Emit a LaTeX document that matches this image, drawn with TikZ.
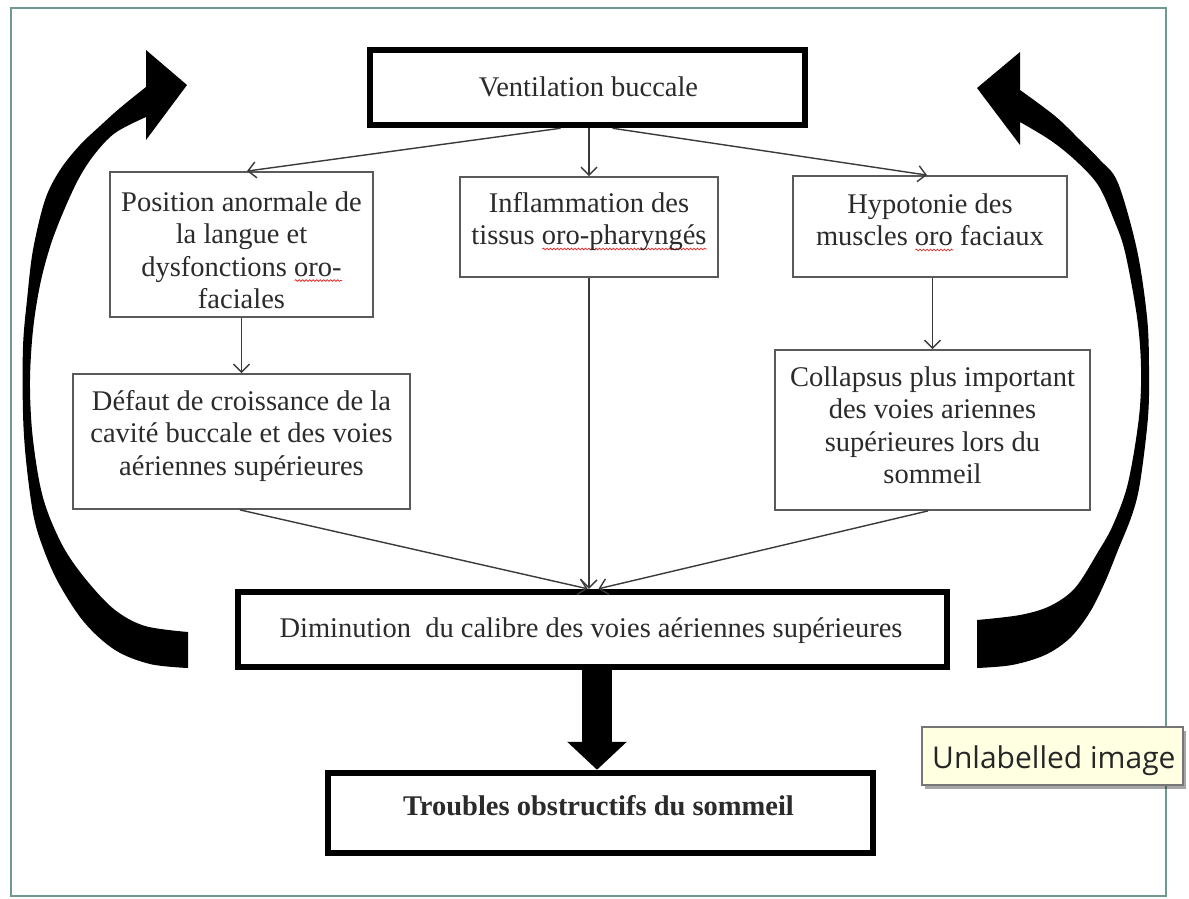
\documentclass[tikz,border=0pt]{standalone}
\usepackage{fontspec}
\setmainfont{Liberation Serif}
\newfontfamily\tipfont{Open Sans}
\usetikzlibrary{arrows.meta,shadows,decorations.pathmorphing}
\definecolor{framec}{HTML}{6E9A92}
\definecolor{txtc}{HTML}{2B2B2B}
\definecolor{boxgray}{HTML}{5A5A5A}
\definecolor{lineg}{HTML}{3A3A3A}
\definecolor{tipfill}{HTML}{FFFFE1}
\definecolor{tipline}{HTML}{767676}
\definecolor{sqred}{HTML}{E03030}
\newsavebox\sqbox
\newcommand\redsq[1]{\sbox\sqbox{#1}\leavevmode\rlap{\tikz[baseline=0pt]\draw[sqred, line width=0.8pt, decorate, decoration={snake, amplitude=0.8pt, segment length=3.5pt}] (0pt,-4.5pt) -- (\the\wd\sqbox,-4.5pt);}\usebox\sqbox}
\newcommand\mlines[1]{\begin{tabular}[t]{@{}c@{}}#1\end{tabular}}
\newcommand\dfont{\fontsize{28.5}{32.5}\selectfont}
\tikzset{
  thinbox/.style={rectangle, draw=boxgray, line width=1.8pt, inner sep=0pt},
  thickbox/.style={rectangle, draw=black, line width=6.5pt, inner sep=0pt},
  txt/.style={anchor=base, inner sep=0pt, font=\dfont, text=txtc},
  conn/.style={draw=lineg, line width=1.4pt, -{Straight Barb[length=8pt,width=16pt]}},
  bigdown/.style={draw=black, line width=30pt, -{Triangle[length=28pt,width=58pt]}},
  tipbox/.style={rectangle, draw=tipline, line width=1.2pt, fill=tipfill, inner sep=0pt,
    drop shadow={shadow xshift=3pt, shadow yshift=-4pt, opacity=0.35, fill=black}},
  tiptxt/.style={anchor=base west, inner sep=0pt, font=\tipfont\fontsize{30}{34}\selectfont, text=black!85},
}
\begin{document}
\begin{tikzpicture}[x=1pt,y=-1pt]
\useasboundingbox (0,0) rectangle (1189,898);
\fill[white] (0,0) rectangle (1189,898);
\draw[framec, line width=2.5pt] (11,8) rectangle (1166,896);

% boxes
\node[thickbox, minimum width=435pt, minimum height=75pt] (vent) at (587.5,87.5) {};
\node[thinbox, minimum width=263pt, minimum height=145pt] (pos) at (241.5,244.5) {};
\node[thinbox, minimum width=258pt, minimum height=100pt] (infl) at (589,227) {};
\node[thinbox, minimum width=274pt, minimum height=101pt] (hypo) at (930,226.5) {};
\node[thinbox, minimum width=337pt, minimum height=135pt] (defaut) at (241.5,441.5) {};
\node[thinbox, minimum width=315pt, minimum height=160pt] (coll) at (932.5,430) {};
\node[thickbox, minimum width=709pt, minimum height=75pt] (dim) at (592.5,629.5) {};
\node[thickbox, minimum width=545pt, minimum height=80pt] (trou) at (600.5,813) {};

% texts
\node[txt] (ventT) at (588.5,96) {Ventilation buccale};
\node[txt] (posT) at (241.5,211) {\mlines{Position anormale de\\la langue et\\dysfonctions \redsq{oro-}\\faciales}};
\node[txt] (inflT) at (589,212) {\mlines{Inflammation des\\tissus \redsq{oro-pharyngés}}};
\node[txt] (hypoT) at (930,213) {\mlines{Hypotonie des\\muscles \redsq{oro} faciaux}};
\node[txt] (defT) at (241.5,410) {\mlines{Défaut de croissance de la\\cavité buccale et des voies\\aériennes supérieures}};
\node[txt] (collT) at (932.5,386) {\mlines{Collapsus plus important\\des voies ariennes\\supérieures lors du\\sommeil}};
\node[txt] (dimT) at (591,637) {Diminution\hspace{0.5em}du calibre des voies aériennes supérieures};
\node[txt] (trouT) at (598.5,815) {\textbf{Troubles obstructifs du sommeil}};

% thin connectors
\draw[conn] ([xshift=-27pt]vent.south) -- ([xshift=5.5pt]pos.north);
\draw[conn] (vent.south -| infl.north) -- (infl.north);
\draw[conn] ([xshift=25pt]vent.south) -- ([xshift=-3pt]hypo.north);
\draw[conn] (pos.south) -- (defaut.north);
\draw[conn] (hypo.south -| coll.north) -- (coll.north);
\draw[conn] ([xshift=-1.5pt]defaut.south) -- ([xshift=-5pt]dim.north);
\draw[conn] (infl.south) -- (infl.south |- dim.north);
\draw[conn] ([xshift=-4.5pt]coll.south) -- ([xshift=6pt]dim.north);

% big down arrow
\draw[bigdown] ([xshift=4.5pt]dim.south) -- ([xshift=4.5pt]dim.south |- trou.north);

% left curved arrow
\fill[black] plot[smooth, tension=0.55] coordinates {(188,668) (150,664) (115,650) (84,622) (58,582) (42,545) (33,513) (26,460) (23,413) (23,347) (27,300) (33,250) (45,200) (60,170) (80,145) (100,126) (120,108) (146,87)}
  -- (146,50) -- (187,85) -- (146,140)
  -- plot[smooth, tension=0.55] coordinates {(146,117) (115,133) (94,155) (78,180) (62,215) (50,247) (40,285) (33,330) (30,380) (32,430) (39,480) (48,513) (65,550) (88,582) (115,610) (145,626) (188,632)}
  -- cycle;

% right curved arrow
\fill[black] plot[smooth, tension=0.55] coordinates {(977,668) (1012,665) (1045,655) (1070,638) (1090,612) (1105,582) (1118,550) (1132,515) (1140,483) (1148,417) (1149,367) (1147,317) (1137,250) (1118,183) (1100,160) (1080,140) (1055,116) (1020,90)}
  -- (1020,52) -- (977,88) -- (1020,145)
  -- plot[smooth, tension=0.55] coordinates {(1020,122) (1050,140) (1075,160) (1098,185) (1114,220) (1125,252) (1137,317) (1141,367) (1139,417) (1128,483) (1113,525) (1098,552) (1075,588) (1050,606) (1020,615) (977,620)}
  -- cycle;

% tooltip
\node[tipbox, minimum width=261pt, minimum height=58pt] (tip) at (1052.5,756) {};
\node[tiptxt] (tipT) at (932,768) {Unlabelled image};
\end{tikzpicture}
\end{document}
